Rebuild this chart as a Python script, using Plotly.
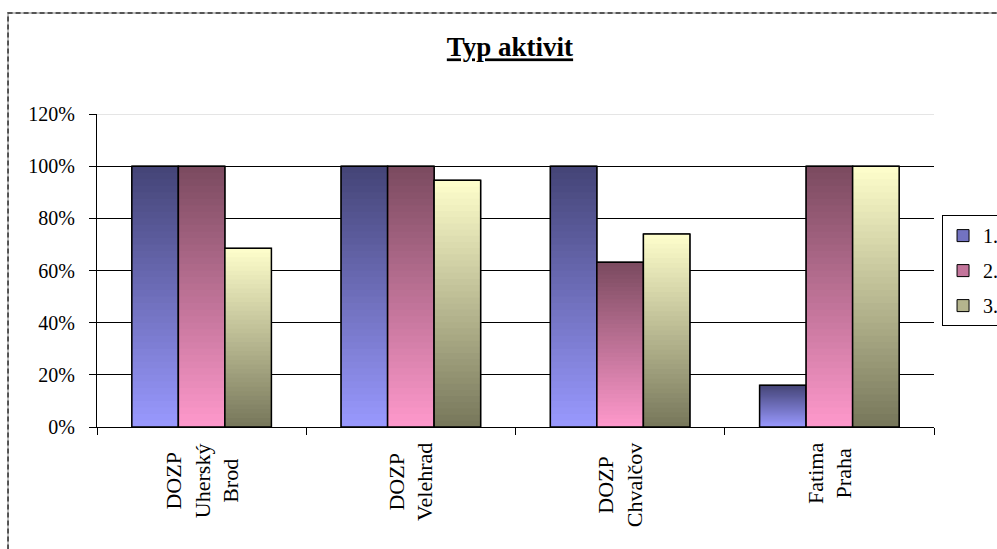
import plotly.graph_objects as go

categories = ["DOZP<br>Uherský<br>Brod", "DOZP<br>Velehrad", "DOZP<br>Chvalčov", "Fatima<br>Praha"]
series_names = ["1.", "2.", "3."]
series_values = [
    [1.00, 1.00, 1.00, 0.16],
    [1.00, 1.00, 0.632, 1.00],
    [0.685, 0.946, 0.74, 1.00],
]
# gradient colours (bottom, top) per series
grad_bottom = [(153, 153, 255), (255, 153, 204), (118, 118, 90)]
grad_top = [(68, 68, 118), (122, 74, 95), (255, 255, 204)]
y_ticks = [0, 0.2, 0.4, 0.6, 0.8, 1.0, 1.2]
y_ticktext = ["0%", "20%", "40%", "60%", "80%", "100%", "120%"]

N = 40
FONT = "Liberation Serif, Times New Roman, serif"


def mix(a, b, t):
    return "rgb(%d,%d,%d)" % tuple(round(a[i] + (b[i] - a[i]) * t) for i in range(3))


fig = go.Figure()

for s, (name, vals) in enumerate(zip(series_names, series_values)):
    # legend / base bar
    fig.add_trace(go.Bar(
        x=categories, y=vals, name=name, offsetgroup=str(s), legendgroup=str(s),
        marker=dict(color=mix(grad_bottom[s], grad_top[s], 0.45), line=dict(color="black", width=1)),
        hoverinfo="skip",
    ))
    # gradient slices
    for k in range(N):
        base = [v * k / N for v in vals]
        top = [v * min(k + 2, N) / N for v in vals]
        fig.add_trace(go.Bar(
            x=categories, y=[t - b for t, b in zip(top, base)], base=base,
            offsetgroup=str(s), legendgroup=str(s), showlegend=False,
            marker=dict(color=mix(grad_bottom[s], grad_top[s], (k + 0.5) / N), line=dict(width=0)),
            hoverinfo="skip",
        ))
    # outline
    fig.add_trace(go.Bar(
        x=categories, y=vals, offsetgroup=str(s), legendgroup=str(s), showlegend=False,
        marker=dict(color="rgba(0,0,0,0)", line=dict(color="black", width=1.5)),
        hoverinfo="skip",
    ))

# category labels as centred multi-line rotated text
for c in categories:
    fig.add_annotation(
        x=c, xref="x", y=0, yref="paper", yshift=-14, yanchor="top", xanchor="center",
        text=c, textangle=-90, align="center", showarrow=False,
        font=dict(family=FONT, size=22, color="black"),
    )

# outer dashed chart border
fig.add_shape(type="rect", xref="paper", yref="paper", x0=-0.1063, y0=-0.6, x1=1.2, y1=1.3227,
              line=dict(color="#aaaaaa", width=1.5), layer="below")
fig.add_shape(type="rect", xref="paper", yref="paper", x0=-0.1063, y0=-0.6, x1=1.2, y1=1.3227,
              line=dict(color="#333333", width=1.5, dash="5px,3px"), layer="below")
# light top line at 120%
fig.add_shape(type="line", xref="paper", yref="y", x0=0, x1=1, y0=1.2, y1=1.2,
              line=dict(color="#dddddd", width=1.5), layer="above")

fig.update_layout(
    width=997, height=549,
    margin=dict(l=97, r=63, t=114, b=122, autoexpand=False),
    paper_bgcolor="white", plot_bgcolor="white",
    barmode="group", bargap=0.333, bargroupgap=0,
    font=dict(family=FONT, size=20, color="black"),
    title=dict(text="<b><u>Typ aktivit</u></b>", x=0.4934, xref="paper", xanchor="center",
               y=1 - 47 / 549, yref="container", yanchor="middle",
               font=dict(family=FONT, size=27, color="black")),
    xaxis=dict(showticklabels=False, ticks="outside", tickson="boundaries", ticklen=7,
               tickcolor="black", tickwidth=1, showline=True, linecolor="black", linewidth=1,
               showgrid=False, fixedrange=True),
    yaxis=dict(range=[0, 1.2], tickvals=y_ticks, ticktext=y_ticktext, ticks="outside", ticklen=7,
               tickcolor="black", tickwidth=1, showline=True, linecolor="black", linewidth=1,
               showgrid=True, gridcolor="black", gridwidth=1, zeroline=False,
               ticklabelstandoff=10, tickfont=dict(family=FONT, size=20, color="black")),
    legend=dict(x=1.0096, xref="paper", xanchor="left", y=0.677, yanchor="top",
                bordercolor="black", borderwidth=1, bgcolor="white",
                font=dict(family=FONT, size=20, color="black"), tracegroupgap=6,
                itemwidth=30),
    showlegend=True,
)

fig.write_html("out.html")
